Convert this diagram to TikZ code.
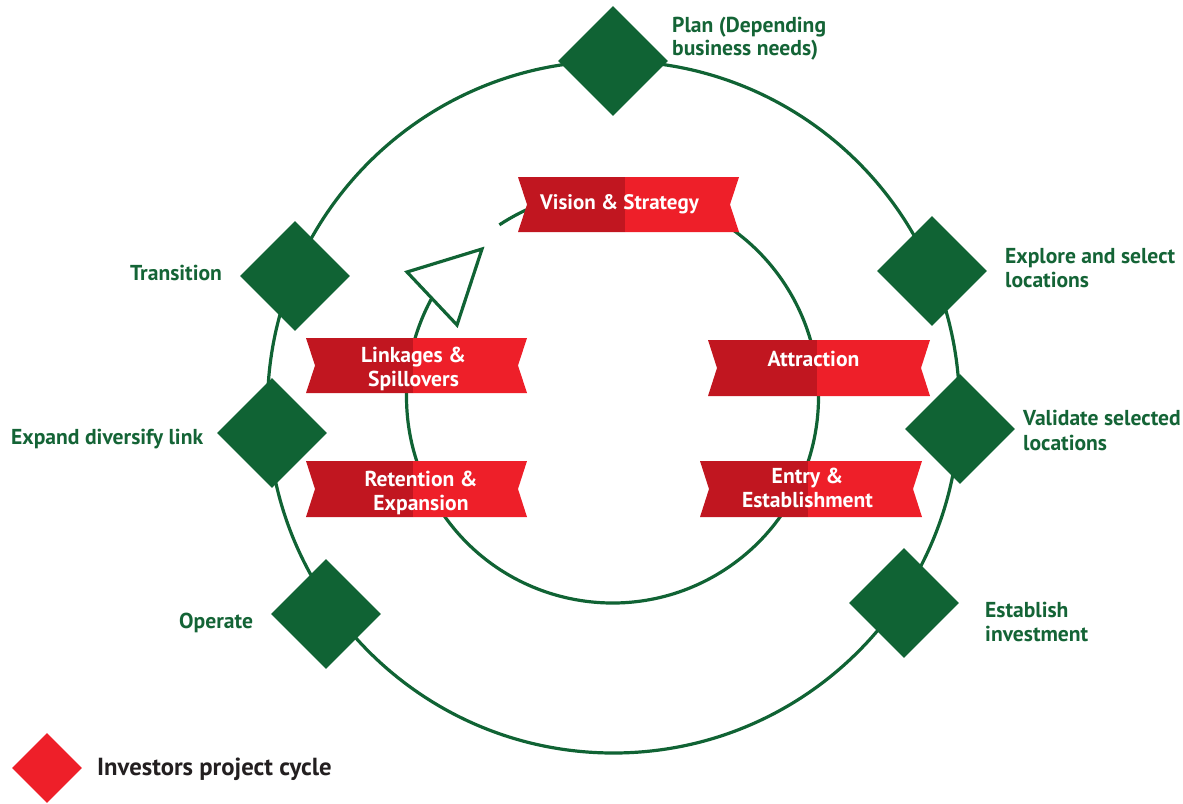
\documentclass[tikz,border=0pt]{standalone}
\usepackage{fontspec}
\setmainfont{PT Sans}
\usetikzlibrary{shapes.geometric,calc}
\definecolor{dgreen}{RGB}{16,99,52}
\definecolor{tgreen}{RGB}{20,100,54}
\definecolor{rdark}{RGB}{193,22,32}
\definecolor{rlight}{RGB}{238,31,41}
\definecolor{ink}{RGB}{35,31,32}
\newcommand\myribbon[7]{%
  \fill[rdark] (#2,#5) -- (#3,#5) -- (#3,#6) -- (#2,#6) -- ({#2+9},{(#5+#6)/2}) -- cycle;
  \fill[rlight] (#3,#5) -- (#4,#5) -- ({#4-9},{(#5+#6)/2}) -- (#4,#6) -- (#3,#6) -- cycle;
  \coordinate (#1) at ({(#2+#4)/2},{(#5+#6)/2});
}
\tikzset{
  ring/.style={draw=dgreen, line width=3.2pt},
  gdiam/.style={diamond, fill=dgreen, draw=none, minimum width=110pt, minimum height=110pt, inner sep=0pt},
  glabel/.style={anchor=base west, inner sep=0pt, text=tgreen, font=\fontsize{21.6}{26}\selectfont\bfseries},
  rtext/.style={anchor=base, inner sep=0pt, text=white, font=\fontsize{21.6}{26}\selectfont\bfseries},
}
\begin{document}
\begin{tikzpicture}[x=1pt,y=-1pt]
\useasboundingbox (0,0) rectangle (1183,803);
% circles
\coordinate (oc) at (613.5,407);
\coordinate (ic) at (612.5,397);
\draw[ring] (oc) circle[radius=346];
\draw[ring] (ic) ++(-123.3:206) arc[start angle=-123.3, end angle=208.4, radius=206];
\draw[ring, fill=white, line join=miter] (407,272) -- (482,249) -- (457,325) -- cycle;
% ribbons
\myribbon{rv}{518}{625}{739}{177}{232}{}
\myribbon{rl}{306}{413}{527}{338}{393}{}
\myribbon{rr}{306}{413}{527}{461}{517}{}
\myribbon{ra}{708}{817}{930}{340}{396}{}
\myribbon{re}{700}{808}{922}{461}{517}{}
\node[rtext, font=\fontsize{21}{26}\selectfont\bfseries] (tv) at (619.5,209) {Vision \& Strategy};
\node[rtext] (tl1) at (413.5,362) {Linkages \&};
\node[rtext] (tl2) at (413.5,386) {Spillovers};
\node[rtext] (tr1) at (421,486) {Retention \&};
\node[rtext] (tr2) at (421,510) {Expansion};
\node[rtext] (ta) at (813.5,366) {Attraction};
\node[rtext] (te1) at (807.5,483) {Entry \&};
\node[rtext] (te2) at (807.5,507) {Establishment};
% diamonds
\node[gdiam] (dplan) at (613,61) {};
\node[gdiam] (dtrans) at (295,276) {};
\node[gdiam] (dexp) at (272,433) {};
\node[gdiam] (dop) at (326,614) {};
\node[gdiam] (dexpl) at (932,271) {};
\node[gdiam] (dval) at (960,429) {};
\node[gdiam] (dest) at (904,603) {};
% labels
\node[glabel] (lplan1) at (672,32) {Plan (Depending};
\node[glabel] (lplan2) at (672,55) {business needs)};
\node[glabel] (ltrans) at (130,280) {Transition};
\node[glabel] (lexpand) at (11,444) {Expand diversify link};
\node[glabel] (lop) at (179,628) {Operate};
\node[glabel] (lexpl1) at (1005,263) {Explore and select};
\node[glabel] (lexpl2) at (1005,287) {locations};
\node[glabel] (lval1) at (1023,425) {Validate selected};
\node[glabel] (lval2) at (1023,450) {locations};
\node[glabel] (lest1) at (985,617) {Establish};
\node[glabel] (lest2) at (985,641) {investment};
% legend
\node[diamond, fill=rlight, draw=none, minimum width=70pt, minimum height=70pt, inner sep=0pt] (leg) at (47,768) {};
\node[anchor=base west, inner sep=0pt, text=ink, font=\fontsize{24.7}{29}\selectfont\bfseries] (legt) at (97,775) {Investors project cycle};
\end{tikzpicture}
\end{document}
